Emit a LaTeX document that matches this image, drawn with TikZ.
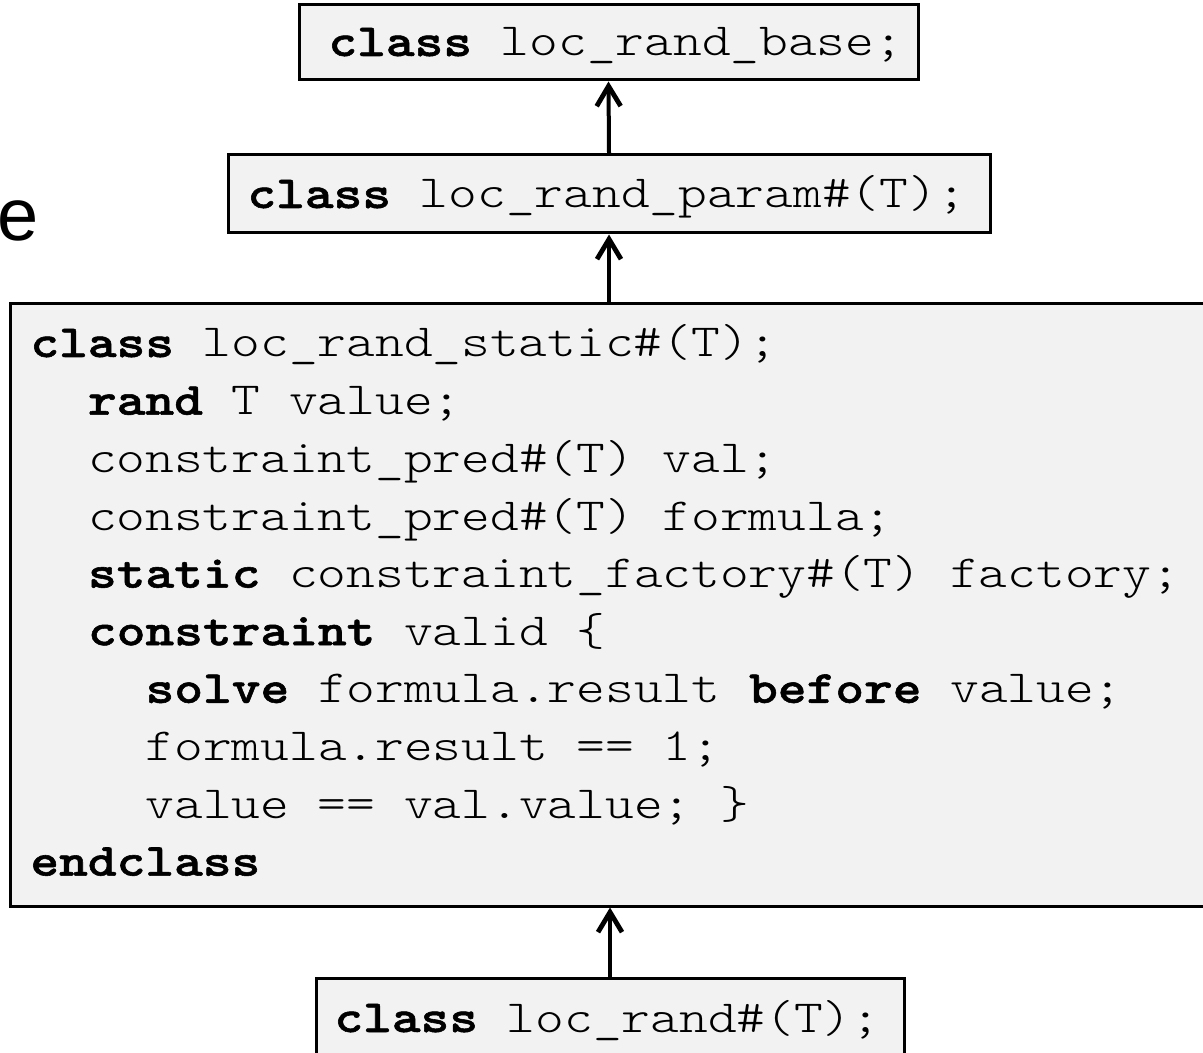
\documentclass[tikz,border=0pt]{standalone}
\usepackage{fontspec}
\setmonofont{lmmonolt10-regular.otf}[FakeStretch=1.19, BoldFont=lmmonolt10-bold.otf, BoldFeatures={FakeBold=1.2}]
\newfontfamily\lsans{Liberation Sans}
\usetikzlibrary{arrows.meta}
\definecolor{boxfill}{HTML}{F2F2F2}
\tikzset{
  classbox/.style={draw=black, line width=1.5pt, fill=boxfill, inner sep=0pt},
  code/.style={font=\ttfamily\fontsize{23pt}{28.7pt}\selectfont, inner sep=0pt, anchor=base west},
  inherit/.style={line width=2pt, line cap=round, -{Straight Barb[length=10pt,width=12pt,line width'=2.4pt]}}
}
\begin{document}
\begin{tikzpicture}[x=0.5pt,y=-0.5pt]
\useasboundingbox (0,0) rectangle (1203,1053);
% boxes
\node[classbox, minimum width=309.5pt, minimum height=37.5pt] (b1) at (608.5,42.5) {};
\node[classbox, minimum width=381pt, minimum height=39pt] (b2) at (609,194) {};
\node[classbox, minimum width=602.5pt, minimum height=301pt] (b3) at (612.5,605) {};
\node[classbox, minimum width=294pt, minimum height=41pt] (b4) at (610,1019) {};
% box texts
\node[code] (t1) at (328,56) {\textbf{class} loc\_rand\_base;};
\node[code] (t2) at (247,208) {\textbf{class} loc\_rand\_param\#(T);};
\node[code] (t4) at (334,1032) {\textbf{class} loc\_rand\#(T);};
% big box code
\node[code] (l1) at (30,357) {\textbf{class} loc\_rand\_static\#(T);};
\node[code] (l2) at (87.6,414.7) {\textbf{rand} T value;};
\node[code] (l3) at (87.6,472.3) {constraint\_pred\#(T) val;};
\node[code] (l4) at (87.6,530) {constraint\_pred\#(T) formula;};
\node[code] (l5) at (87.6,587.6) {\textbf{static} constraint\_factory\#(T) factory;};
\node[code] (l6) at (87.6,645.2) {\textbf{constraint} valid \{};
\node[code] (l7) at (145.2,702.8) {\textbf{solve} formula.result \textbf{before} value;};
\node[code] (l8) at (145.2,760.4) {formula.result == 1;};
\node[code] (l9) at (145.2,818) {value == val.value; \}};
\node[code] (l10) at (30,875.6) {\textbf{endclass}};
% stray letter
\node[font=\lsans\fontsize{37pt}{44pt}\selectfont, inner sep=0pt, anchor=base west] (e) at (-3,241) {e};
% arrows
\draw[inherit] (b2.north) -- (b1.south);
\draw[inherit] (b2.south |- b3.north) -- (b2.south);
\draw[inherit] (b4.north) -- (b4.north |- b3.south);
\end{tikzpicture}
\end{document}
